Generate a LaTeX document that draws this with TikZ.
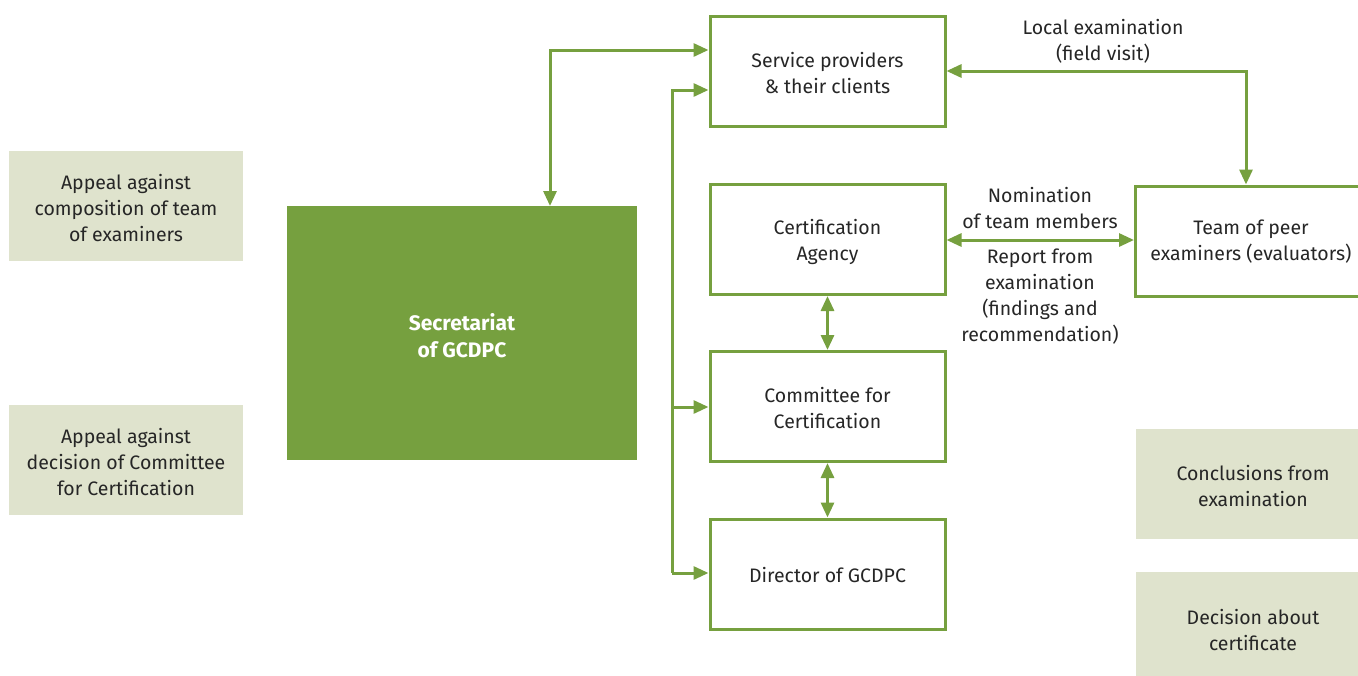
\documentclass[tikz,border=0pt]{standalone}
\usepackage{fontspec}
\setmainfont{Fira Sans}
\usetikzlibrary{arrows.meta}
\definecolor{leaf}{HTML}{76A03F}
\definecolor{sage}{HTML}{DFE3CD}
\definecolor{ink}{HTML}{262626}
\begin{document}
\begin{tikzpicture}[x=1pt,y=-1pt,
  txt/.style={font=\fontsize{19.5}{26}\selectfont, text=ink, align=center},
  outline/.style={draw=leaf, line width=3pt, fill=white, txt},
  note/.style={fill=sage, txt},
  link/.style={draw=leaf, line width=3pt, -{Triangle[length=15pt,width=13pt]}},
  dlink/.style={link, {Triangle[length=15pt,width=13pt]}-{Triangle[length=15pt,width=13pt]}}
]
\useasboundingbox (0,0) rectangle (1358,675);
\begin{scope}
\clip (0,0) rectangle (1358,675);

% shaded side notes
\node[note, minimum width=234pt, minimum height=110pt] (appeal1) at (126,206) {};
\node[txt] at (126,208) {Appeal against\\composition of team\\of examiners};
\node[note, minimum width=234pt, minimum height=110pt] (appeal2) at (126,460) {};
\node[txt] at (126,462) {Appeal against\\decision of Committee\\for Certification};
\node[note, minimum width=232pt, minimum height=110pt, anchor=north west] (concl) at (1136,429) {};
\node[txt] at (1253,486) {Conclusions from\\examination};
\node[note, minimum width=232pt, minimum height=110pt, anchor=north west] (decis) at (1136,572) {};
\node[txt] at (1253,630) {Decision about\\certificate};

% secretariat
\node[fill=leaf, minimum width=350pt, minimum height=254pt, anchor=north west] (sec) at (287,206) {};
\node[font=\fontsize{21}{27}\selectfont\bfseries, text=white, align=center] (secl) at (462,336) {Secretariat\\of GCDPC};

% outlined boxes
\node[outline, minimum width=235pt, minimum height=110pt] (serv) at (827.5,71) {};
\node[txt] at (827.5,73) {Service providers\\\& their clients};
\node[outline, minimum width=235pt, minimum height=110pt] (cert) at (827.5,239.5) {};
\node[txt] at (827.5,241.5) {Certification\\Agency};
\node[outline, minimum width=235pt, minimum height=110pt] (comm) at (827.5,406.5) {};
\node[txt] at (827.5,408.5) {Committee for\\Certification};
\node[outline, minimum width=235pt, minimum height=110pt] (dir) at (827.5,574) {};
\node[txt] at (827.5,575) {Director of GCDPC};
\node[outline, minimum width=240pt, minimum height=110pt, anchor=north west] (team) at (1134,184.5) {};
\node[txt] at (1251,242) {Team of peer\\examiners (evaluators)};

% connector labels
\node[txt] (lbl1) at (1103,41) {Local examination\\(field visit)};
\node[txt] (lbl2) at (1040,208) {Nomination\\of team members};
\node[txt] (lbl3) at (1040,297) {Report from\\examination\\(findings and\\recommendation)};

% connectors
\coordinate (secTop) at (550,206);
\draw[dlink] (secTop) -- (550,50) -- (serv.west |- 0,50);
\coordinate (busTop) at (672,90);
\coordinate (busBot) at (672,573);
\draw[link] (busBot) -- (busTop) -- (serv.west |- busTop);
\draw[link] (busBot) -- (dir.west |- busBot);
\draw[link] (672,407) -- (comm.west |- 0,407);
\draw[dlink] (serv.east |- 0,71) -- (1246,71) -- (1246,184.5);
\draw[dlink] (cert.east |- 0,240) -- (team.west |- 0,240);
\draw[dlink] (cert.south) -- (comm.north);
\draw[dlink] (comm.south) -- (dir.north);
\end{scope}
\end{tikzpicture}
\end{document}
